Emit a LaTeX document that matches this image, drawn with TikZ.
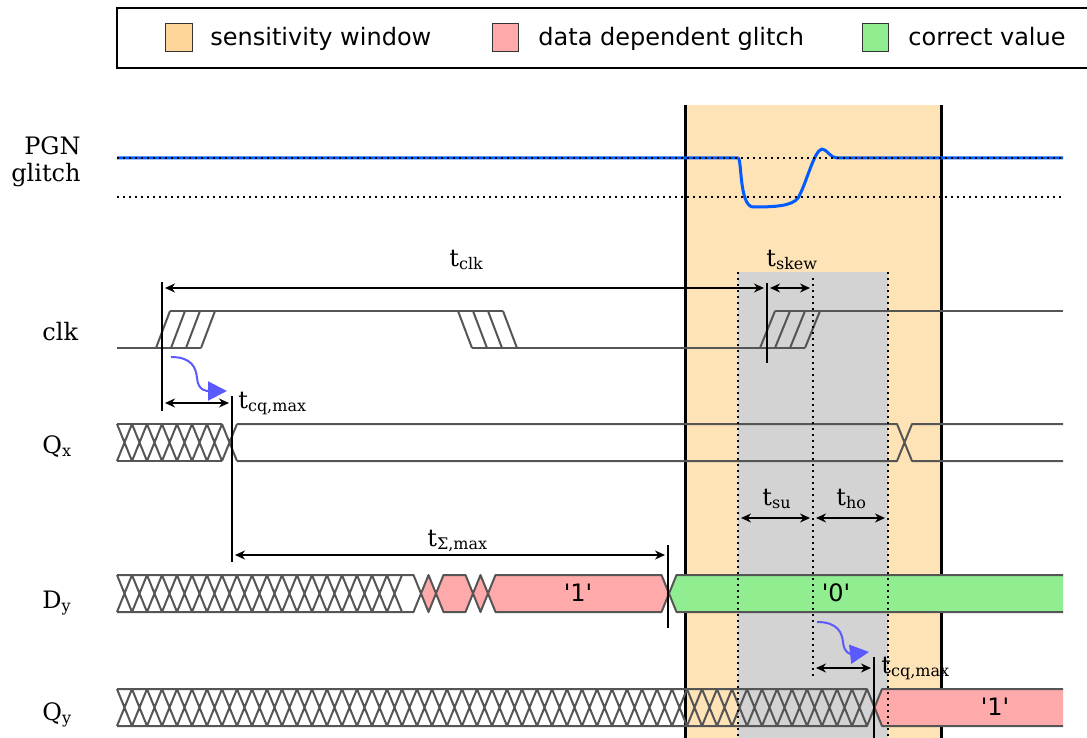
\documentclass[tikz,border=0pt]{standalone}
\usepackage{fontspec}
\setmainfont{DejaVu Serif}
\newfontfamily\sansfam{DejaVu Sans}
\usetikzlibrary{arrows.meta}

\definecolor{winorange}{RGB}{254,227,182}
\definecolor{legorange}{RGB}{255,214,153}
\definecolor{glitchred}{RGB}{255,170,170}
\definecolor{okgreen}{RGB}{144,238,144}
\definecolor{skewgray}{RGB}{211,211,211}
\definecolor{wavegray}{RGB}{85,85,85}
\definecolor{pgnblue}{RGB}{0,92,255}
\definecolor{flowblue}{RGB}{90,90,255}

\begin{document}
\begin{tikzpicture}[x=0.5pt, y=-0.5pt, font=\fontsize{12}{13.5}\selectfont,
  every node/.append style={inner sep=0pt},
  wave/.style={draw=wavegray, line width=1pt, line join=round},
  pgn/.style={draw=pgnblue, line width=1.5pt, line join=round},
  marker/.style={draw=black, line width=0.75pt},
  dim/.style={draw=black, line width=0.7pt, {Stealth[length=5pt,width=4.5pt]}-{Stealth[length=5pt,width=4.5pt]}, shorten <=1.5pt, shorten >=1.5pt},
  guide/.style={draw=black, line width=0.7pt, dash pattern=on 0.8pt off 2.2pt},
  flow/.style={draw=flowblue, line width=1pt, -{Triangle[length=9.5pt,width=9.5pt]}},
  swatch/.style={draw=black!80, line width=0.5pt},
  leg/.style={font=\sansfam\fontsize{12}{14}\selectfont, anchor=base west},
  val/.style={font=\sansfam\fontsize{12}{14}\selectfont},
  sig/.style={anchor=base west},
  tlbl/.style={anchor=base west}]
  \useasboundingbox (0,0) rectangle (1087,738);
  \clip (0,0) rectangle (1087,738);

  % legend
  \draw[line width=0.6pt] (117,8) rectangle (1100,68);
  \draw[swatch, fill=legorange] (165,24) rectangle (192,52);
  \node[leg] (legwin) at (210,46) {sensitivity window};
  \draw[swatch, fill=glitchred] (492,24) rectangle (518,52);
  \node[leg] (legglitch) at (538,46) {data dependent glitch};
  \draw[swatch, fill=okgreen] (862,24) rectangle (888,52);
  \node[leg] (legok) at (908,46) {correct value};

  % sensitivity window and setup/hold band
  \fill[winorange] (685,105) rectangle (941,740);
  \fill[skewgray] (738,272) rectangle (888,740);
  \draw[line width=1.5pt] (685,105) -- (685,740) (941,105) -- (941,740);

  % time references
  \coordinate (clkA) at (162,0);
  \coordinate (clkB) at (767,0);
  \coordinate (qxA) at (232,0);
  \coordinate (dyA) at (668,0);
  \coordinate (suA) at (738,0);
  \coordinate (hoA) at (813,0);
  \coordinate (hoB) at (888,0);
  \coordinate (qyA) at (874,0);

  % signal names
  \node[anchor=east, align=right] (lblpgn) at (81,162) {PGN\\glitch};
  \node[sig] (lblclk) at (42,340) {clk};
  \node[sig] (lblqx) at (42,453) {Q\textsubscript{x}};
  \node[sig] (lbldy) at (42,608) {D\textsubscript{y}};
  \node[sig] (lblqy) at (42,720) {Q\textsubscript{y}};

  % PGN glitch
  \draw[pgn] (117,158) -- (738,158) .. controls (742,158) and (739,206) .. (753,207)
    .. controls (775,207) and (792,206) .. (798,198)
    .. controls (806,185) and (814,150) .. (822,149)
    .. controls (827,149) and (830,158) .. (837,158) -- (1063,158);
  \draw[guide] (117,158) -- (1063,158) (117,197) -- (1063,197);

  % clk
  \draw[wave] (117,348) -- (201,348) (170,311) -- (503,311)
    (472,348) -- (805,348) (775,311) -- (1063,311);
  \foreach \k in {0,...,3} {
    \draw[wave] ({156+15*\k},348) -- ({170+15*\k},311);
    \draw[wave] ({458+15*\k},311) -- ({472+15*\k},348);
    \draw[wave] ({760+15*\k},348) -- ({775+15*\k},311);
  }

  % Q_x
  \draw[wave] (117,424) -- (222,424) (117,461) -- (222,461);
  \foreach \k in {0,...,7}
    \draw[wave] ({117+15*\k},424) -- ({132+15*\k},461) ({117+15*\k},461) -- ({132+15*\k},424);
  \draw[wave] (237,424) -- (897,424) -- (912,461) -- (1063,461)
    (237,461) -- (897,461) -- (912,424) -- (1063,424);

  % D_y
  \draw[wave] (117,575) -- (413.5,575) -- (421,593.5) -- (413.5,612) -- (117,612);
  \foreach \k in {0,...,18}
    \draw[wave] ({117+15*\k},575) -- ({132+15*\k},612) ({117+15*\k},612) -- ({132+15*\k},575);
  \filldraw[wave, fill=glitchred] (421,593.5) -- (428.5,575) -- (436,593.5) -- (428.5,612) -- cycle;
  \filldraw[wave, fill=glitchred] (436,593.5) -- (443.5,575) -- (465.5,575) -- (473,593.5) -- (465.5,612) -- (443.5,612) -- cycle;
  \filldraw[wave, fill=glitchred] (473,593.5) -- (480.5,575) -- (488,593.5) -- (480.5,612) -- cycle;
  \filldraw[wave, fill=glitchred] (488,593.5) -- (495.5,575) -- (661.5,575) -- (669,593.5) -- (661.5,612) -- (495.5,612) -- cycle;
  \fill[okgreen] (669,593.5) -- (676.5,575) -- (1063,575) -- (1063,612) -- (676.5,612) -- cycle;
  \draw[wave] (1063,575) -- (676.5,575) -- (669,593.5) -- (676.5,612) -- (1063,612);
  \node[val] (dyone) at (578,593) {\textquotesingle 1\textquotesingle};
  \node[val] (dyzero) at (836,593) {\textquotesingle 0\textquotesingle};

  % Q_y
  \draw[wave] (117,689) -- (867,689) -- (874.5,707.5) -- (867,726) -- (117,726);
  \foreach \k in {0,...,49}
    \draw[wave] ({117+15*\k},689) -- ({132+15*\k},726) ({117+15*\k},726) -- ({132+15*\k},689);
  \filldraw[wave, fill=glitchred] (1063,689) -- (882,689) -- (874.5,707.5) -- (882,726) -- (1063,726);
  \node[val] (qyone) at (995,707) {\textquotesingle 1\textquotesingle};

  % setup / hold guides
  \draw[guide] (suA |- 0,272) -- (suA |- 0,738);
  \draw[guide] (hoA |- 0,278) -- (hoA |- 0,678);
  \draw[guide] (hoB |- 0,272) -- (hoB |- 0,738);

  % edge markers
  \draw[marker] (clkA |- 0,282) -- (clkA |- 0,411);
  \draw[marker] (clkB |- 0,283) -- (clkB |- 0,363);
  \draw[marker] (qxA |- 0,396) -- (qxA |- 0,562);
  \draw[marker] (dyA |- 0,545) -- (dyA |- 0,628);
  \draw[marker] (qyA |- 0,657) -- (qyA |- 0,740);

  % timing arrows
  \draw[dim] (clkA |- 0,288) -- (clkB |- 0,288);
  \draw[dim] (clkB |- 0,288) -- (hoA |- 0,288);
  \draw[dim] (clkA |- 0,403) -- (qxA |- 0,403);
  \draw[dim] (qxA |- 0,555) -- (dyA |- 0,555);
  \draw[dim] (suA |- 0,518) -- (hoA |- 0,518);
  \draw[dim] (hoA |- 0,518) -- (hoB |- 0,518);
  \draw[dim] (hoA |- 0,668) -- (qyA |- 0,668);

  \node[tlbl] (tclk) at (449,266) {t\textsubscript{clk}};
  \node[tlbl] (tskew) at (766,266) {t\textsubscript{skew}};
  \node[tlbl] (tcqx) at (238,408) {t\textsubscript{cq,max}};
  \node[tlbl] (tsum) at (427,546) {t\textsubscript{Σ,max}};
  \node[tlbl] (tsu) at (762,505) {t\textsubscript{su}};
  \node[tlbl] (tho) at (836,505) {t\textsubscript{ho}};
  \node[tlbl] (tcqy) at (881,673) {t\textsubscript{cq,max}};

  % clock-to-output
  \draw[flow] (171,357) .. controls (192,357) and (196,368) .. (197,378)
    .. controls (198,391) and (207,391) .. (227,391);
  \draw[flow] (817,622) .. controls (838,622) and (842,633) .. (843,642)
    .. controls (844,654) and (852,654) .. (869,652);
\end{tikzpicture}
\end{document}
